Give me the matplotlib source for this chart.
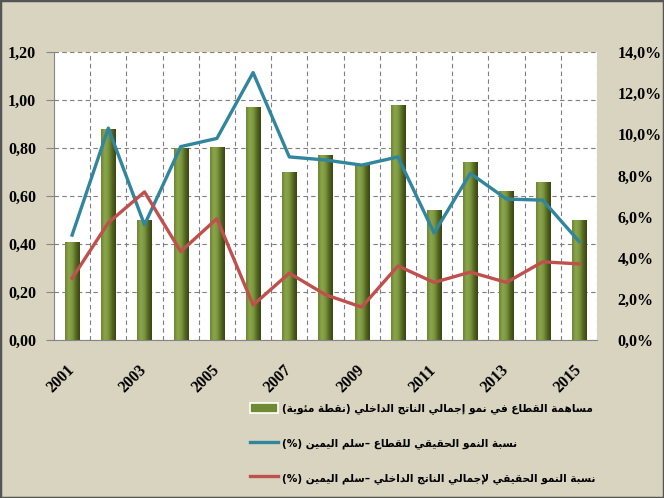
# Sector contribution to GDP growth, with two growth-rate lines on a right-hand scale
import numpy as np
from matplotlib import pyplot as plt
from matplotlib.patches import Rectangle, Patch
from matplotlib.lines import Line2D
from matplotlib.ticker import FuncFormatter

years = [2001, 2002, 2003, 2004, 2005, 2006, 2007, 2008,
         2009, 2010, 2011, 2012, 2013, 2014, 2015]
# bars: contribution in percentage points (left scale)
contribution = [0.41, 0.88, 0.50, 0.80, 0.805, 0.97, 0.70, 0.77,
                0.73, 0.98, 0.54, 0.74, 0.62, 0.66, 0.50]
# lines: growth rates in % (right scale)
sector_growth = [5.1, 10.3, 5.6, 9.4, 9.8, 13.0, 8.9, 8.75,
                 8.5, 8.9, 5.2, 8.1, 6.85, 6.8, 4.8]
gdp_growth = [3.0, 5.7, 7.2, 4.3, 5.9, 1.7, 3.25, 2.2,
              1.6, 3.6, 2.8, 3.3, 2.8, 3.8, 3.7]

label_bar = "مساهمة القطاع في نمو إجمالي الناتج الداخلي (نقطة مئوية)"
label_sector = "نسبة النمو الحقيقي للقطاع –سلم اليمين (%)"
label_gdp = "نسبة النمو الحقيقي لإجمالي الناتج الداخلي –سلم اليمين (%)"

# --- tiny Arabic shaper (matplotlib has no shaping / bidi) ---
# letter: (isolated, final, initial, medial); two entries = joins only on the right
forms = {
    'ا': (0xFE8D, 0xFE8E), 'إ': (0xFE87, 0xFE88), 'أ': (0xFE83, 0xFE84),
    'ب': (0xFE8F, 0xFE90, 0xFE91, 0xFE92), 'ة': (0xFE93, 0xFE94),
    'ت': (0xFE95, 0xFE96, 0xFE97, 0xFE98), 'ج': (0xFE9D, 0xFE9E, 0xFE9F, 0xFEA0),
    'ح': (0xFEA1, 0xFEA2, 0xFEA3, 0xFEA4), 'خ': (0xFEA5, 0xFEA6, 0xFEA7, 0xFEA8),
    'د': (0xFEA9, 0xFEAA), 'ر': (0xFEAD, 0xFEAE),
    'س': (0xFEB1, 0xFEB2, 0xFEB3, 0xFEB4), 'ط': (0xFEC1, 0xFEC2, 0xFEC3, 0xFEC4),
    'ع': (0xFEC9, 0xFECA, 0xFECB, 0xFECC), 'ف': (0xFED1, 0xFED2, 0xFED3, 0xFED4),
    'ق': (0xFED5, 0xFED6, 0xFED7, 0xFED8), 'ل': (0xFEDD, 0xFEDE, 0xFEDF, 0xFEE0),
    'م': (0xFEE1, 0xFEE2, 0xFEE3, 0xFEE4), 'ن': (0xFEE5, 0xFEE6, 0xFEE7, 0xFEE8),
    'ه': (0xFEE9, 0xFEEA, 0xFEEB, 0xFEEC), 'و': (0xFEED, 0xFEEE),
    'ي': (0xFEF1, 0xFEF2, 0xFEF3, 0xFEF4), 'ئ': (0xFE89, 0xFE8A, 0xFE8B, 0xFE8C),
}
lam_alef = {'ا': (0xFEFB, 0xFEFC), 'إ': (0xFEF9, 0xFEFA), 'أ': (0xFEF7, 0xFEF8)}


def shape(text):
    chars = list(text)
    out = []
    i = 0
    while i < len(chars):
        c = chars[i]
        if c not in forms:
            out.append(c)
            i += 1
            continue
        prev = chars[i - 1] if i > 0 else ''
        joins_prev = prev in forms and len(forms[prev]) == 4
        nxt = chars[i + 1] if i + 1 < len(chars) else ''
        if c == 'ل' and nxt in lam_alef:
            out.append(chr(lam_alef[nxt][1 if joins_prev else 0]))
            i += 2
            continue
        f = forms[c]
        joins_next = len(f) == 4 and nxt in forms
        if joins_prev and joins_next:
            g = f[3]
        elif joins_prev:
            g = f[1]
        elif joins_next:
            g = f[2]
        else:
            g = f[0]
        out.append(chr(g))
        i += 1
    vis = ''.join(reversed(out))
    return vis.translate(str.maketrans('()', ')('))


bg = '#d8d4bf'
blue = '#31859c'
red = '#c0504d'
serif = 'Liberation Serif'

fig = plt.figure(figsize=(6.64, 4.98), dpi=100, facecolor=bg)
ax1 = fig.add_axes([54 / 664, 1 - 340 / 498, 543 / 664, 288 / 498])
ax2 = ax1.twinx()
ax1.set_facecolor('white')

x = np.arange(len(years))

# bars with a cylinder-like horizontal gradient
bars = ax1.bar(x, contribution, width=0.39, color='#76903a', zorder=2)
grad_cols = np.array([[0.42, 0.52, 0.19], [0.55, 0.65, 0.30], [0.48, 0.59, 0.24],
                      [0.33, 0.40, 0.13], [0.22, 0.27, 0.08]])
gx = np.linspace(0, 1, 60)
stops = np.linspace(0, 1, len(grad_cols))
grad = np.stack([np.interp(gx, stops, grad_cols[:, k]) for k in range(3)], axis=-1)
grad = grad[np.newaxis, :, :]
for b in bars:
    x0, w, h = b.get_x(), b.get_width(), b.get_height()
    im = ax1.imshow(grad, extent=[x0, x0 + w, 0, h], aspect='auto', zorder=2.1,
                    interpolation='bicubic')
    im.set_clip_path(b)

ax1.set_xlim(-0.5, len(years) - 0.5)
ax1.set_ylim(0, 1.2)
ax1.set_yticks(np.arange(0, 1.21, 0.2))
ax1.yaxis.set_major_formatter(FuncFormatter(lambda v, p: f"{v:.2f}".replace('.', ',')))
ax1.set_xticks(x[::2])
ax1.set_xticklabels([str(y) for y in years[::2]], rotation=45, ha='right', va='center',
                    rotation_mode='anchor', fontsize=11.5, fontweight='bold', family=serif)
ax1.set_xticks(np.arange(0.5, len(years) - 0.4, 1), minor=True)
ax1.tick_params(axis='x', which='both', length=0, pad=20)
ax1.tick_params(axis='y', length=6, color='#868686', pad=7, labelsize=11.5)
for lab in ax1.get_yticklabels():
    lab.set_fontweight('bold')
    lab.set_family(serif)

ax1.grid(axis='y', which='major', color='#7f7f7f', linestyle=(0, (4, 3)), linewidth=0.8, zorder=1)
ax1.grid(axis='x', which='minor', color='#7f7f7f', linestyle=(0, (4, 3)), linewidth=0.8, zorder=1)
ax1.set_axisbelow(True)
for s in ['top', 'right']:
    ax1.spines[s].set_visible(False)
ax1.spines['left'].set_color('#868686')
ax1.spines['bottom'].set_color('#868686')

# lines on the right-hand percentage scale
ax2.plot(x, sector_growth, color=blue, lw=2.4, zorder=3)
ax2.plot(x, gdp_growth, color=red, lw=2.4, zorder=3)
ax2.set_ylim(0, 14)
ax2.set_yticks(np.arange(0, 14.1, 2))
ax2.yaxis.set_major_formatter(FuncFormatter(lambda v, p: f"{v:.1f}%".replace('.', ',')))
ax2.tick_params(axis='y', length=0, pad=15, labelsize=11.5)
for lab in ax2.get_yticklabels():
    lab.set_fontweight('bold')
    lab.set_family(serif)
for s in ax2.spines.values():
    s.set_visible(False)

# legend below the plot
handles = [Patch(facecolor='#6f8a33', edgecolor='white', linewidth=1.2),
           Line2D([], [], color=blue, lw=2.4),
           Line2D([], [], color=red, lw=2.4)]
labels = [shape(label_bar), shape(label_sector), shape(label_gdp)]
leg = fig.legend(handles, labels, loc='upper left', bbox_to_anchor=(240 / 664, 1 - 393 / 498),
                 frameon=False, handlelength=2.7, handleheight=1.1, handletextpad=0.4,
                 labelspacing=2.2, prop={'family': 'DejaVu Sans', 'weight': 'bold', 'size': 7.6})

# dark frame round the whole picture
fig.patches.append(Rectangle((0, 0), 1, 1, transform=fig.transFigure, fill=False,
                             edgecolor='#555555', linewidth=2.5))

plt.savefig('out.png', dpi=100, facecolor=bg)
